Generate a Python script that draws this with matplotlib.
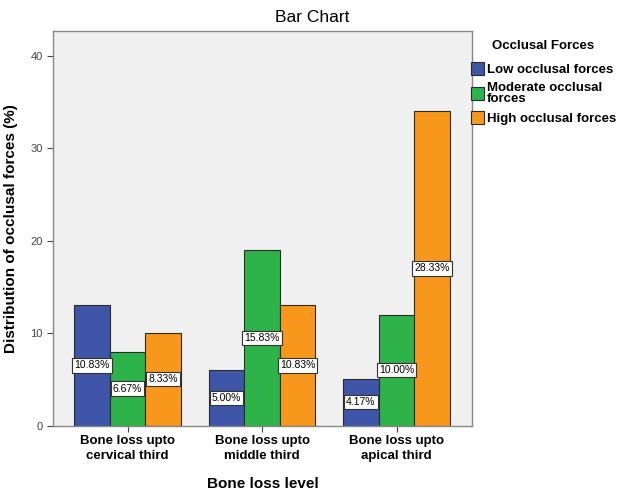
import matplotlib.pyplot as plt
import numpy as np

plt.rcParams['font.family'] = ['Liberation Sans', 'DejaVu Sans']

levels = ['Bone loss upto\ncervical third', 'Bone loss upto\nmiddle third', 'Bone loss upto\napical third']
forces = ['Low occlusal forces', 'Moderate occlusal\nforces', 'High occlusal forces']
low = [13, 6, 5]
moderate = [8, 19, 12]
high = [10, 13, 34]
total = 120
colors = ['#3F55A8', '#2DB34A', '#F7981D']

fig = plt.figure(figsize=(6.18, 4.9), dpi=100)
ax = fig.add_axes([53 / 618, 1 - 425.5 / 490, 419 / 618, 394.5 / 490])
ax.set_facecolor('#F0F0F0')

x = np.arange(len(levels))
w = 0.265
for i, (vals, col, name) in enumerate(zip([low, moderate, high], colors, forces)):
    pos = x + (i - 1) * w
    ax.bar(pos, vals, width=w, color=col, edgecolor='#2b2b2b', linewidth=0.8, label=name, zorder=2)
    for p, v in zip(pos, vals):
        ax.text(p, v / 2, f'{v / total * 100:.2f}%', ha='center', va='center', fontsize=7.5,
                bbox=dict(boxstyle='square,pad=0.2', fc='white', ec='#333333', lw=0.8), zorder=3)

ax.set_xlim(-0.554, 2.561)
ax.set_ylim(0, 42.7)
ax.set_yticks([0, 10, 20, 30, 40])
ax.set_xticks(x)
ax.set_xticklabels(levels, fontweight='bold', fontsize=9.5, linespacing=1.3)
ax.tick_params(axis='y', labelsize=8, colors='#444444', length=4)
ax.tick_params(axis='x', length=4, colors='#444444', pad=3)
for lab in ax.get_xticklabels():
    lab.set_color('black')
for s in ax.spines.values():
    s.set_color('#888888')
    s.set_linewidth(1.0)

ax.set_xlabel('Bone loss level', fontweight='bold', fontsize=11, labelpad=11)
ax.set_ylabel('Distribution of occlusal forces (%)', fontweight='bold', fontsize=11, labelpad=9)
fig.suptitle('Bar Chart', x=0.505, y=1 - 18 / 490, va='center', fontsize=12.5)

leg = fig.legend(loc='upper left', bbox_to_anchor=(471 / 618, 1 - 40 / 490), frameon=False,
                 title='Occlusal Forces', prop={'weight': 'bold', 'size': 9.5},
                 handlelength=1.0, handleheight=1.15, handletextpad=0.2, labelspacing=0.45,
                 borderpad=0, borderaxespad=0)
leg.get_title().set_fontweight('bold')
leg.get_title().set_fontsize(9.5)
leg._legend_box.sep = 7
for t in leg.get_texts():
    t.set_linespacing(0.9)

fig.savefig('out.png', dpi=100)
